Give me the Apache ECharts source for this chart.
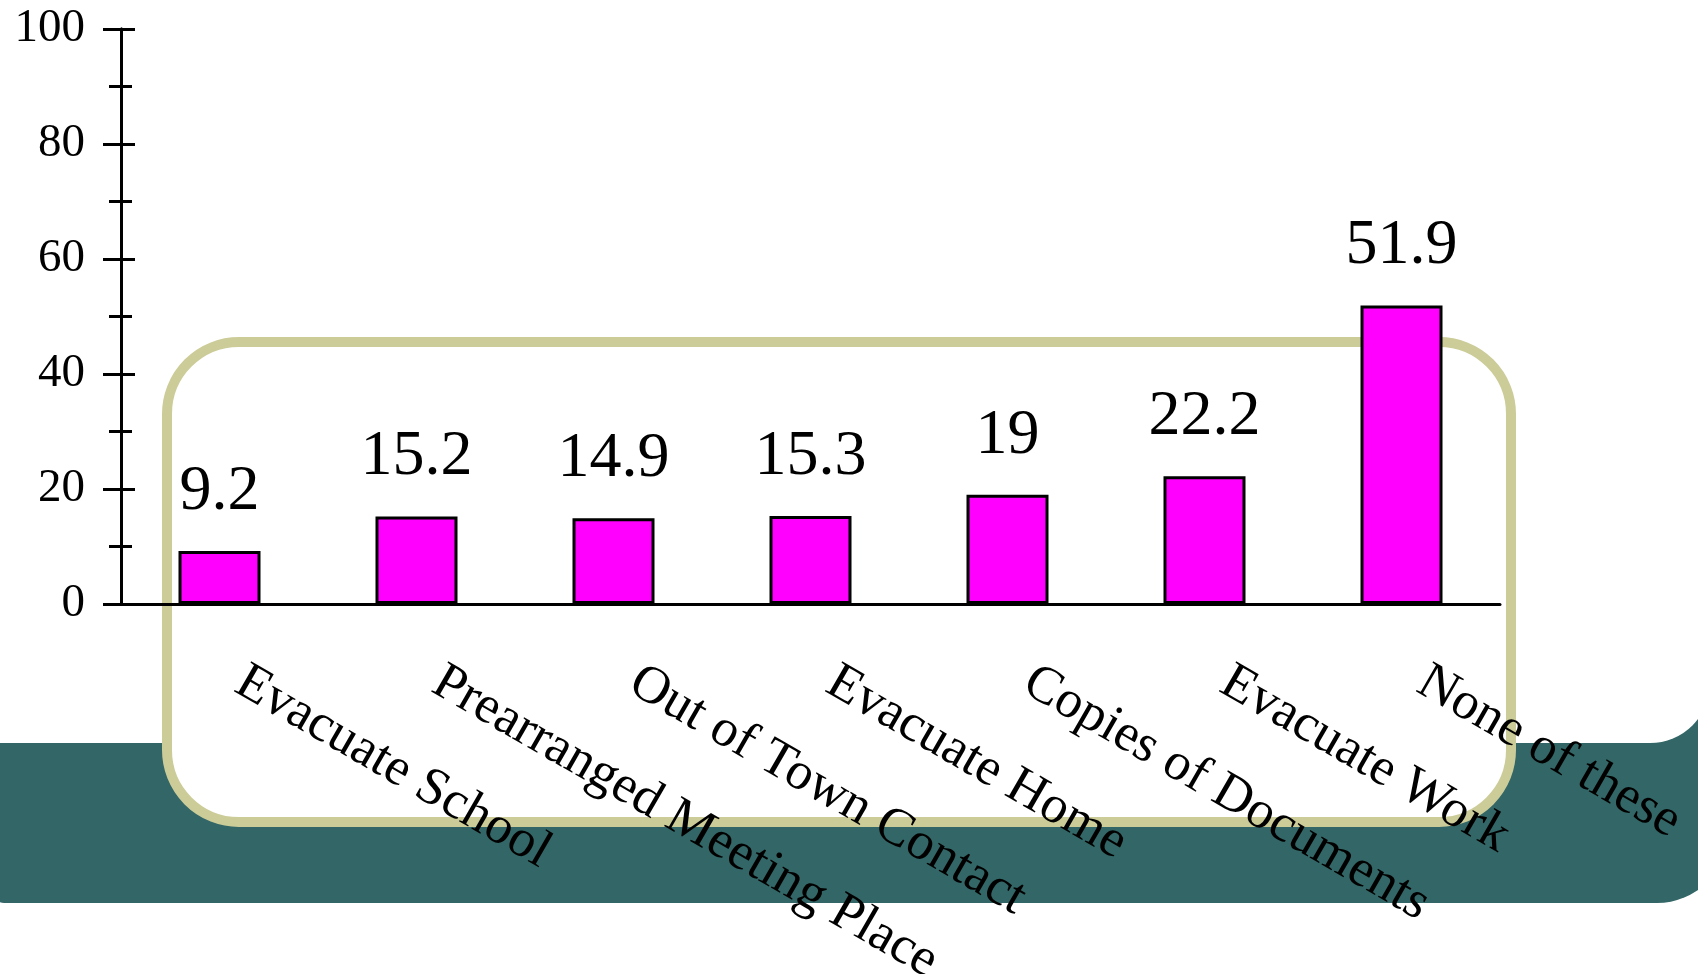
<!DOCTYPE html>
<html>
<head>
<meta charset="utf-8">
<script src="https://cdn.jsdelivr.net/npm/echarts@6/dist/echarts.min.js"></script>
<style>
html,body{margin:0;padding:0;background:#fff;}
#chart{width:1698px;height:974px;}
</style>
</head>
<body>
<div id="chart"></div>
<script>
var categories = ['Evacuate School', 'Prearranged Meeting Place', 'Out of Town Contact', 'Evacuate Home', 'Copies of Documents', 'Evacuate Work', 'None of these'];
var values = [9.2, 15.2, 14.9, 15.3, 19, 22.2, 51.9];
var yMin = 0, yMax = 100, yStep = 20;

var FONT = '"Liberation Serif", "Times New Roman", serif';
var chart = echarts.init(document.getElementById('chart'), null, {renderer: 'canvas'});

var baseY = {
  type: 'value', min: yMin, max: yMax, interval: yStep, position: 'left', offset: 0,
  splitLine: {show: false},
  axisLine: {show: true, lineStyle: {color: '#000', width: 3}}
};

chart.setOption({
  backgroundColor: '#ffffff',
  animation: false,
  graphic: [
    {type: 'rect', z: -30, shape: {x: -8, y: 600, width: 1736, height: 303, r: [0, 0, 71, 12]}, style: {fill: '#336666'}},
    {type: 'rect', z: -20, shape: {x: -100, y: -100, width: 1810, height: 843, r: [0, 0, 60, 0]}, style: {fill: '#ffffff'}},
    {type: 'rect', z: -10, shape: {x: 167, y: 342, width: 1344, height: 480, r: 72}, style: {fill: '#ffffff', stroke: '#CCCC99', lineWidth: 10}}
  ],
  grid: {left: 121, right: 198, top: 29, bottom: 974 - 604, containLabel: false, outerBoundsMode: 'none'},
  xAxis: {
    type: 'category', data: categories,
    axisLine: {show: true, lineStyle: {color: '#000', width: 3}},
    axisTick: {show: false},
    axisLabel: {rotate: -30, margin: 63, padding: [0, 0, 0, 23], interval: 0, color: '#000', fontFamily: FONT, fontSize: 53}
  },
  yAxis: [
    Object.assign({}, baseY, {
      axisTick: {show: true, inside: false, length: 18, lineStyle: {color: '#000', width: 3}},
      minorTick: {show: true, splitNumber: 2, length: 12, lineStyle: {color: '#000', width: 3}},
      axisLabel: {margin: 36, color: '#000', fontFamily: FONT, fontSize: 47}
    }),
    Object.assign({}, baseY, {
      axisTick: {show: true, inside: true, length: 14, lineStyle: {color: '#000', width: 3}},
      minorTick: {show: true, splitNumber: 2, length: 11, lineStyle: {color: '#000', width: 3}},
      axisLabel: {show: false}
    })
  ],
  series: [{
    type: 'bar', data: values, yAxisIndex: 0, barWidth: 82,
    itemStyle: {color: '#FF00FF', borderColor: '#000', borderWidth: 3},
    label: {show: true, position: 'top', distance: 27, color: '#000', fontFamily: FONT, fontSize: 64}
  }]
});
</script>
</body>
</html>
